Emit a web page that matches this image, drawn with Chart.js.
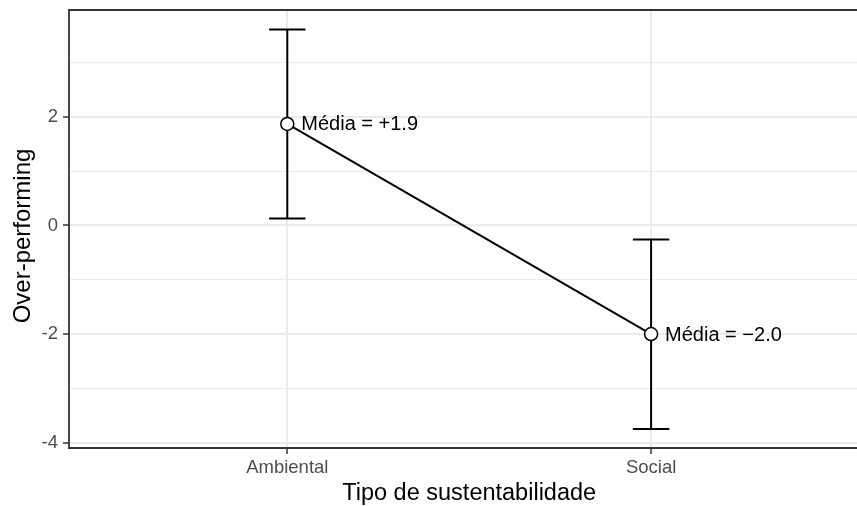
<!DOCTYPE html>
<html>
<head>
<meta charset="utf-8">
<script src="https://cdn.jsdelivr.net/npm/chart.js@4.4.1/dist/chart.umd.min.js"></script>
<style>
  html, body { margin: 0; padding: 0; background: #ffffff; overflow: hidden; }
  canvas { display: block; }
</style>
</head>
<body>
<canvas id="c" width="857" height="506"></canvas>
<script>
// ---- data ----
const categories = ["Ambiental", "Social"];
const categoryPositions = [1, 2];
const means = [1.87, -2.0];
const lowerCI = [0.13, -3.75];
const upperCI = [3.61, -0.26];
const meanLabels = ["Média = +1.9", "Média = \u22122.0"];
const yTickValues = [-4, -3, -2, -1, 0, 1, 2, 3];
const yTickLabels = ["-4", "", "-2", "", "0", "", "2", ""];
const xAxisTitle = "Tipo de sustentabilidade";
const yAxisTitle = "Over-performing";
const capWidth = 0.1;

const FONT = "'Liberation Sans', Arial, Helvetica, sans-serif";

const meanData = categoryPositions.map((x, i) => ({ x: x, y: means[i] }));

const errorDatasets = [];
categoryPositions.forEach((x, i) => {
  const common = { borderColor: '#000000', borderWidth: 2, pointRadius: 0, pointHoverRadius: 0, fill: false, showLine: true, tension: 0 };
  errorDatasets.push(Object.assign({ data: [{ x: x, y: lowerCI[i] }, { x: x, y: upperCI[i] }] }, common));
  errorDatasets.push(Object.assign({ data: [{ x: x - capWidth / 2, y: upperCI[i] }, { x: x + capWidth / 2, y: upperCI[i] }] }, common));
  errorDatasets.push(Object.assign({ data: [{ x: x - capWidth / 2, y: lowerCI[i] }, { x: x + capWidth / 2, y: lowerCI[i] }] }, common));
});

const panelPlugin = {
  id: 'panel',
  afterDatasetsDraw(chart) {
    const ctx = chart.ctx;
    const xs = chart.scales.x, ys = chart.scales.y;
    ctx.save();
    ctx.fillStyle = '#000000';
    ctx.font = '20px ' + FONT;
    ctx.textAlign = 'left';
    ctx.textBaseline = 'middle';
    categoryPositions.forEach((x, i) => {
      ctx.fillText(meanLabels[i], xs.getPixelForValue(x) + 14, ys.getPixelForValue(means[i]) + 1);
    });
    ctx.restore();
  },
  afterDraw(chart) {
    const ctx = chart.ctx;
    const ca = chart.chartArea;
    const xs = chart.scales.x;
    ctx.save();
    ctx.strokeStyle = '#333333';
    ctx.lineWidth = 1.8;
    ctx.beginPath();
    ctx.moveTo(chart.width + 5, ca.top);
    ctx.lineTo(ca.left, ca.top);
    ctx.lineTo(ca.left, ca.bottom);
    ctx.lineTo(chart.width + 5, ca.bottom);
    ctx.stroke();
    // x axis title (centred on the full, partly cropped panel)
    ctx.fillStyle = '#000000';
    ctx.font = '23.5px ' + FONT;
    ctx.textAlign = 'center';
    ctx.textBaseline = 'alphabetic';
    const midX = (xs.getPixelForValue(categoryPositions[0]) + xs.getPixelForValue(categoryPositions[categoryPositions.length - 1])) / 2;
    ctx.fillText(xAxisTitle, midX, 500);
    // y axis title
    ctx.font = '24px ' + FONT;
    ctx.textBaseline = 'middle';
    ctx.translate(23, (ca.top + ca.bottom) / 2 + 7);
    ctx.rotate(-Math.PI / 2);
    ctx.fillText(yAxisTitle, 0, 0);
    ctx.restore();
  }
};

new Chart(document.getElementById('c'), {
  type: 'scatter',
  data: {
    datasets: [
      {
        data: meanData,
        showLine: true,
        borderColor: '#000000',
        borderWidth: 2,
        pointRadius: 6.5,
        pointHoverRadius: 6.5,
        pointBackgroundColor: '#ffffff',
        pointBorderColor: '#000000',
        pointBorderWidth: 1.5,
        tension: 0
      },
      ...errorDatasets
    ]
  },
  options: {
    responsive: false,
    animation: false,
    devicePixelRatio: 1,
    layout: { autoPadding: false, padding: { top: 10, right: 0, left: 0, bottom: 0 } },
    plugins: { legend: { display: false }, tooltip: { enabled: false } },
    scales: {
      x: {
        type: 'linear',
        min: 0.4,
        max: 2.566,
        afterBuildTicks(scale) { scale.ticks = categoryPositions.map(v => ({ value: v })); },
        afterFit(scale) { scale.height = 58; scale.paddingLeft = 0; scale.paddingRight = 0; },
        grid: { color: '#ebebeb', lineWidth: 2, tickLength: 6, tickColor: '#333333', tickWidth: 1.5 },
        border: { display: false },
        ticks: {
          padding: 3,
          color: '#4d4d4d',
          font: { family: FONT, size: 18.5 },
          callback: (v) => { const i = categoryPositions.indexOf(v); return i >= 0 ? categories[i] : ''; },
          maxRotation: 0
        },
        title: { display: false }
      },
      y: {
        type: 'linear',
        min: -4.1,
        max: 3.97,
        afterBuildTicks(scale) { scale.ticks = yTickValues.map(v => ({ value: v })); },
        afterFit(scale) { scale.width = 69; scale.paddingTop = 0; scale.paddingBottom = 0; },
        grid: {
          color: '#ebebeb',
          lineWidth: (c) => (c.tick && Math.abs(c.tick.value % 2) === 1 ? 1 : 2),
          tickLength: 6,
          tickColor: (c) => (c.tick && Math.abs(c.tick.value % 2) === 1 ? 'rgba(0,0,0,0)' : '#333333'),
          tickWidth: 1.5
        },
        border: { display: false },
        ticks: {
          padding: 5,
          color: '#4d4d4d',
          font: { family: FONT, size: 18.5 },
          callback: (v) => { const i = yTickValues.indexOf(v); return i >= 0 ? yTickLabels[i] : ''; }
        },
        title: { display: false }
      }
    }
  },
  plugins: [panelPlugin]
});
</script>
</body>
</html>
